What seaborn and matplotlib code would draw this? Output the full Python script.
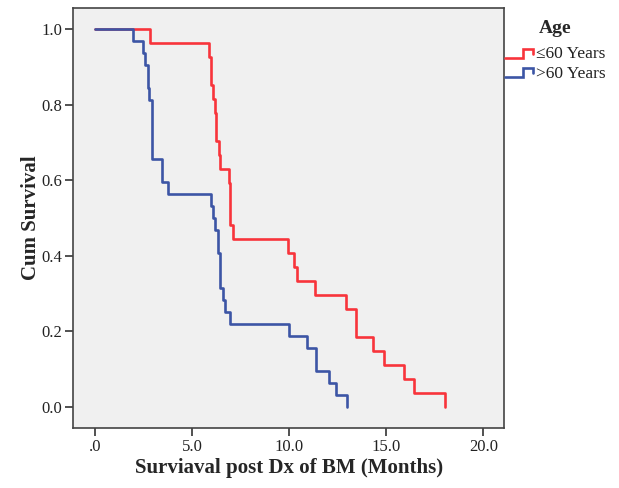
import numpy as np
import pandas as pd
import matplotlib
matplotlib.use("Agg")
import matplotlib.pyplot as plt
from matplotlib.lines import Line2D
from matplotlib.legend_handler import HandlerBase
import seaborn as sns

# Kaplan-Meier step points (time in months, cumulative survival)
young_time = [0.0, 2.85, 5.85, 5.95, 6.05, 6.15, 6.25, 6.4, 6.45, 6.9, 6.95,
              7.1, 9.95, 10.25, 10.4, 11.3, 12.9, 13.45, 14.3, 14.9, 15.9,
              16.4, 18.0]
young_surv = [1.0, 0.963, 0.926, 0.852, 0.815, 0.778, 0.704, 0.667, 0.630,
              0.593, 0.481, 0.444, 0.407, 0.370, 0.333, 0.296, 0.259, 0.185,
              0.148, 0.111, 0.074, 0.037, 0.0]

old_time = [0.0, 1.95, 2.45, 2.55, 2.7, 2.8, 2.95, 3.45, 3.75, 5.95, 6.05,
            6.2, 6.35, 6.45, 6.6, 6.7, 6.95, 10.0, 10.9, 11.4, 12.05, 12.4,
            12.95]
old_surv = [1.0, 0.969, 0.938, 0.906, 0.844, 0.813, 0.656, 0.594, 0.563,
            0.531, 0.5, 0.469, 0.406, 0.313, 0.281, 0.25, 0.219, 0.188, 0.156,
            0.094, 0.063, 0.031, 0.0]

groups = ["\u226460 Years", ">60 Years"]
colors = ["#F8343B", "#3C55A5"]
x_ticks = [0, 5, 10, 15, 20]
x_tick_labels = [".0", "5.0", "10.0", "15.0", "20.0"]
y_ticks = [0.0, 0.2, 0.4, 0.6, 0.8, 1.0]
y_tick_labels = ["0.0", "0.2", "0.4", "0.6", "0.8", "1.0"]

df = pd.concat([
    pd.DataFrame({"time": young_time, "surv": young_surv, "Age": groups[0]}),
    pd.DataFrame({"time": old_time, "surv": old_surv, "Age": groups[1]}),
], ignore_index=True)

sns.set_style("ticks")
plt.rcParams["font.family"] = ["Liberation Serif", "DejaVu Serif"]

fig = plt.figure(figsize=(6.19, 4.88), dpi=100)
ax = fig.add_axes([0.1185, 0.1236, 0.6955, 0.86])
ax.set_facecolor("#F0F0F0")

sns.lineplot(data=df, x="time", y="surv", hue="Age", hue_order=groups,
             palette=colors, estimator=None, sort=False,
             drawstyle="steps-post", linewidth=1.9, legend=False, ax=ax)

ax.set_xlim(-1.12, 21.05)
ax.set_ylim(-0.056, 1.056)
ax.set_xticks(x_ticks)
ax.set_xticklabels(x_tick_labels)
ax.set_yticks(y_ticks)
ax.set_yticklabels(y_tick_labels)
ax.tick_params(axis="both", direction="out", length=6, width=1.2,
               color="#333333", labelsize=12, labelcolor="#222222", pad=2)
for side in ["left", "bottom", "right", "top"]:
    ax.spines[side].set_visible(True)
    ax.spines[side].set_color("#444444")
    ax.spines[side].set_linewidth(1.2)

ax.set_xlabel("Surviaval post Dx of BM (Months)", fontsize=15,
              fontweight="bold", labelpad=2)
ax.set_ylabel("Cum Survival", fontsize=15, fontweight="bold", labelpad=0)


class StepHandler(HandlerBase):
    """Legend key drawn as a small step shape."""
    def create_artists(self, legend, orig_handle, xdescent, ydescent,
                       width, height, fontsize, trans):
        w, h = width, height
        xs = [-xdescent, -xdescent + 0.6 * w, -xdescent + 0.6 * w,
              -xdescent + 0.95 * w, -xdescent + 0.95 * w]
        ys = [-ydescent + 0.05 * h, -ydescent + 0.05 * h, -ydescent + 0.8 * h,
              -ydescent + 0.8 * h, -ydescent + 0.4 * h]
        line = Line2D(xs, ys, color=orig_handle.get_color(),
                      linewidth=orig_handle.get_linewidth(),
                      solid_joinstyle="miter", transform=trans)
        return [line]


handles = [Line2D([], [], color=c, linewidth=1.9) for c in colors]
leg = fig.legend(handles, groups, title="Age",
                 loc="upper left", bbox_to_anchor=(0.816, 0.96),
                 frameon=False, fontsize=12.5, handlelength=1.7,
                 handletextpad=0.1, labelspacing=0.2, borderaxespad=0,
                 borderpad=0, handler_map={Line2D: StepHandler()})
leg.get_title().set_fontweight("bold")
leg.get_title().set_fontsize(14)
leg._legend_box.sep = 7
for t in leg.get_texts():
    t.set_color("#222222")

fig.savefig("out.png", dpi=100)
